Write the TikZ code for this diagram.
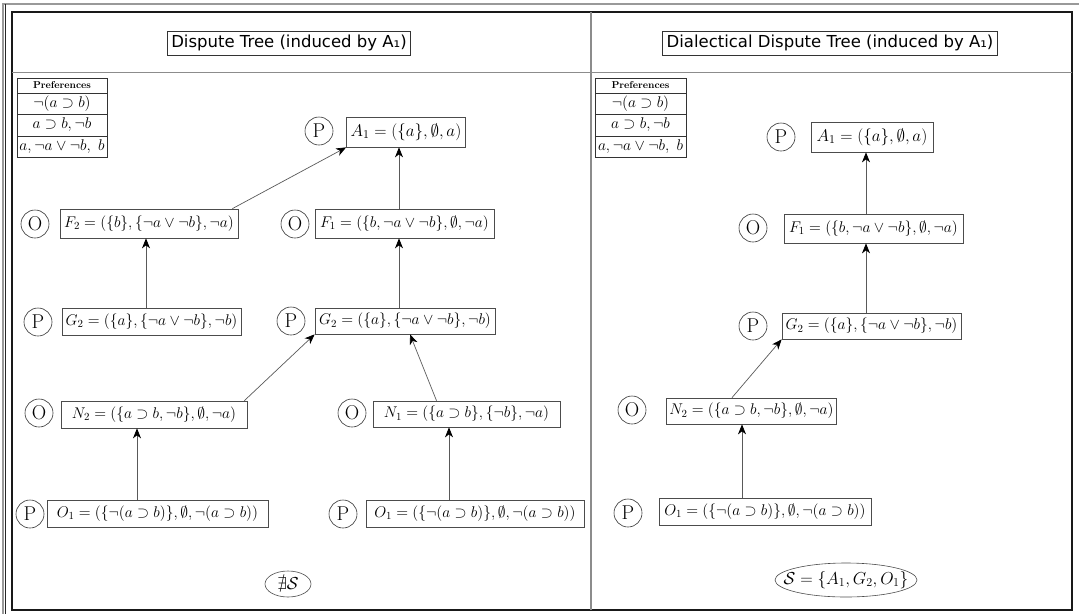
\RequirePackage{fix-cm}
\documentclass[tikz,border=0pt]{standalone}
\usepackage{amsmath,amssymb}
\usepackage{fontspec}
\newfontfamily\titlefont{DejaVu Sans}
\usetikzlibrary{arrows.meta}

\begin{document}
\begin{tikzpicture}[x=1pt,y=-1pt,
  argbox/.style={draw=black!70, line width=0.7pt, inner xsep=3pt, inner ysep=0pt,
    minimum height=27pt, font=\fontsize{15.5}{18}\selectfont},
  bigarg/.style={argbox, font=\fontsize{17}{19}\selectfont},
  player/.style={circle, draw=black!80, line width=0.6pt, minimum size=28pt,
    inner sep=0pt, font=\fontsize{20}{20}\selectfont},
  attack/.style={draw=black!65, line width=0.7pt,
    -{Stealth[length=10pt,width=8pt,inset=3pt,color=black]}},
  cell/.style={draw=black!80, line width=0.6pt, inner sep=0pt,
    font=\fontsize{15.5}{17}\selectfont},
  headcell/.style={cell, font=\fontsize{10}{11}\selectfont\bfseries},
  title/.style={draw=black!80, line width=0.7pt, inner xsep=4pt, inner ysep=0pt,
    minimum height=24pt, font=\titlefont\fontsize{16.5}{18}\selectfont},
  verdict/.style={inner sep=0pt, font=\fontsize{17.3}{19}\selectfont},
  verdictring/.style={draw=black!70, line width=0.6pt},
  divider/.style={draw=black!45, line width=1.4pt},
  frame/.style={draw=black!90, line width=1.1pt}
]
\useasboundingbox (0,0) rectangle (1079,614);

% page edges
\draw[draw=black!40, line width=1.4pt] (1079,4) -- (3,4) -- (3,614);
\draw[draw=black!85, line width=0.8pt] (5.5,4) -- (5.5,614);

% frame and panel dividers
\draw[frame] (12,12) rectangle (1072,610);
\draw[divider] (12,72.5) -- (1072,72.5);
\draw[divider] (591,12) -- (591,610);

% panel titles
\node[title] (titleL) at (289,43) {Dispute Tree (induced by A₁)};
\node[title] (titleR) at (830,43) {Dialectical Dispute Tree (induced by A₁)};

% preference tables
\foreach \side/\cx/\w in {L/62/90, R/640.5/91} {
  \node[headcell, minimum width=\w pt, minimum height=15pt] (pref\side0) at (\cx,85.5) {Preferences};
  \node[cell, minimum width=\w pt, minimum height=21pt] (pref\side1) at (\cx,103.5) {$\neg(a\supset b)$};
  \node[cell, minimum width=\w pt, minimum height=22pt] (pref\side2) at (\cx,125) {$a\supset b,\neg b$};
  \node[cell, minimum width=\w pt, minimum height=21pt] (pref\side3) at (\cx,146.5) {$a,\neg a\vee\neg b,\ b$};
}

% ---------- dispute tree ----------
\node[player] (pA1) at (319,131) {P};
\node[bigarg, minimum width=119pt, minimum height=30pt] (A1) at (406,132) {$A_1=(\{a\},\emptyset,a)$};

\node[player] (oF2) at (35,224) {O};
\node[argbox, minimum width=178pt, minimum height=29pt] (F2) at (149,223.5) {$F_2=(\{b\},\{\neg a\vee\neg b\},\neg a)$};
\node[player] (oF1) at (295,224) {O};
\node[argbox, minimum width=179pt, minimum height=29pt] (F1) at (404.5,223.5) {$F_1=(\{b,\neg a\vee\neg b\},\emptyset,\neg a)$};

\node[player] (pG2a) at (38,322) {P};
\node[argbox, minimum width=179pt] (G2a) at (151.5,321.5) {$G_2=(\{a\},\{\neg a\vee\neg b\},\neg b)$};
\node[player] (pG2b) at (291,321) {P};
\node[argbox, minimum width=180pt, minimum height=26pt] (G2b) at (405,321) {$G_2=(\{a\},\{\neg a\vee\neg b\},\neg b)$};

\node[player] (oN2) at (39,413) {O};
\node[argbox, minimum width=186pt] (N2) at (154,414.5) {$N_2=(\{a\supset b,\neg b\},\emptyset,\neg a)$};
\node[player] (oN1) at (352,413) {O};
\node[argbox, minimum width=187pt, minimum height=26pt] (N1) at (466.5,414) {$N_1=(\{a\supset b\},\{\neg b\},\neg a)$};

\node[player] (pO1a) at (30,514) {P};
\node[argbox, minimum width=221pt] (O1a) at (157.5,513.5) {$O_1=(\{\neg(a\supset b)\},\emptyset,\neg(a\supset b))$};
\node[player] (pO1b) at (343,514) {P};
\node[argbox, minimum width=218pt] (O1b) at (475,513.5) {$O_1=(\{\neg(a\supset b)\},\emptyset,\neg(a\supset b))$};

\node[verdict] (noS) at (288,584) {$\nexists\mathcal{S}$};
\draw[verdictring] (noS.center) ellipse [x radius=23pt, y radius=13pt];

\draw[attack] ([xshift=-6pt]F2.north east) -- (A1.south west);
\draw[attack] ([xshift=-5.5pt]F1.north) -- ([xshift=-7pt]A1.south);
\draw[attack] ([xshift=-5.5pt]G2a.north) -- ([xshift=-3pt]F2.south);
\draw[attack] ([xshift=-6pt]G2b.north) -- ([xshift=-5.5pt]F1.south);
\draw[attack] ([xshift=-3pt]N2.north east) -- (G2b.south west);
\draw[attack] ([xshift=-30pt]N1.north) -- ([xshift=5pt]G2b.south);
\draw[attack] ([xshift=-20.5pt]O1a.north) -- ([xshift=-17pt]N2.south);
\draw[attack] ([xshift=-26pt]O1b.north) -- ([xshift=-17.5pt]N1.south);

% ---------- dialectical dispute tree ----------
\node[player] (dpA1) at (781,137) {P};
\node[bigarg, minimum width=122pt, minimum height=30pt] (dA1) at (872,137) {$A_1=(\{a\},\emptyset,a)$};
\node[player] (doF1) at (753,228) {O};
\node[argbox, minimum width=179pt, minimum height=29pt] (dF1) at (873.5,228.5) {$F_1=(\{b,\neg a\vee\neg b\},\emptyset,\neg a)$};
\node[player] (dpG2) at (753,326) {P};
\node[argbox, minimum width=179pt, minimum height=26pt] (dG2) at (871.5,326) {$G_2=(\{a\},\{\neg a\vee\neg b\},\neg b)$};
\node[player] (doN2) at (632,410) {O};
\node[argbox, minimum width=169pt, minimum height=26pt] (dN2) at (751.5,411) {$N_2=(\{a\supset b,\neg b\},\emptyset,\neg a)$};
\node[player] (dpO1) at (628,513) {P};
\node[argbox, minimum width=212pt] (dO1) at (765,511.5) {$O_1=(\{\neg(a\supset b)\},\emptyset,\neg(a\supset b))$};

\node[verdict] (S) at (846,580) {$\mathcal{S}=\{A_1,G_2,O_1\}$};
\draw[verdictring] (S.center) ellipse [x radius=71pt, y radius=17pt];

\draw[attack] ([xshift=-7.5pt]dF1.north) -- ([xshift=-6pt]dA1.south);
\draw[attack] ([xshift=-5.5pt]dG2.north) -- ([xshift=-7.5pt]dF1.south);
\draw[attack] ([xshift=-19.5pt]dN2.north) -- (dG2.south west);
\draw[attack] ([xshift=-23pt]dO1.north) -- ([xshift=-9.5pt]dN2.south);
\end{tikzpicture}
\end{document}
